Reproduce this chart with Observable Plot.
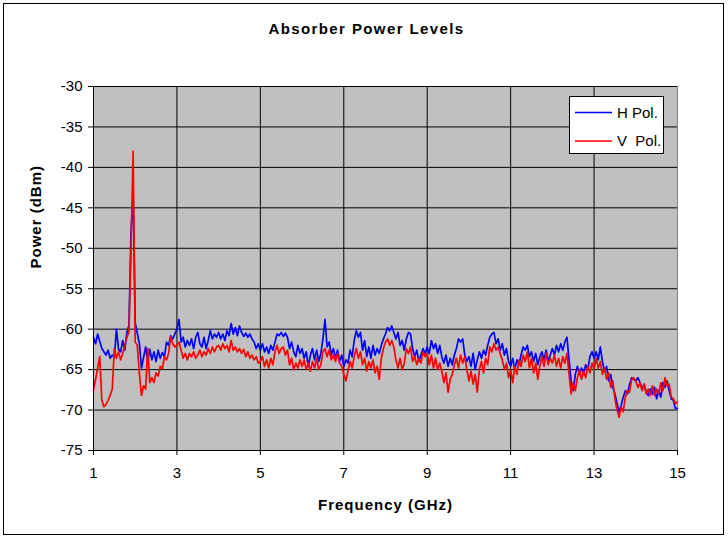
<!DOCTYPE html>
<html><head><meta charset="utf-8">
<script src="https://cdn.jsdelivr.net/npm/d3@7"></script>
<script src="https://cdn.jsdelivr.net/npm/@observablehq/plot@0.6"></script>
<style>
body{margin:0;background:#fff}
#chart{width:728px;height:537px;position:relative}
</style>
</head><body><div id="chart"></div>
<script>
// Sweep: 1.00 GHz to 15.00 GHz in 0.05 GHz steps
const freqStart = 1;
const freqStep = 0.05;

// H Pol. (dBm), one row per GHz
const hPol = [
 -61.0,-61.8,-60.6,-61.5,-62.4,-62.8,-63.2,-62.6,-63.6,-63.2,-63.5,-60.0,-62.5,-62.8,-61.4,-62.6,-60.4,-59.5,-48.0,-43.0,
 -59.2,-60.5,-61.8,-64.8,-63.5,-62.2,-64.0,-62.5,-63.8,-62.8,-64.0,-62.6,-63.6,-62.9,-63.4,-61.6,-62.0,-60.8,-61.2,-60.6,
 -60.0,-58.8,-61.6,-61.0,-62.2,-61.4,-62.0,-61.2,-62.4,-61.0,-60.4,-61.8,-62.2,-61.0,-62.4,-61.4,-60.2,-61.2,-60.6,-61.0,
 -60.4,-61.2,-60.6,-61.4,-60.2,-60.8,-59.3,-60.6,-59.8,-60.8,-59.6,-60.4,-60.9,-60.5,-61.0,-60.6,-61.2,-61.6,-62.4,-61.8,
 -62.6,-61.8,-62.8,-62.2,-63.0,-62.0,-62.6,-61.6,-60.6,-60.8,-60.4,-60.9,-60.5,-61.0,-62.4,-61.6,-62.8,-63.4,-62.0,-63.0,
 -62.4,-63.6,-62.8,-64.6,-63.2,-62.4,-63.8,-62.6,-64.0,-63.0,-61.2,-58.8,-62.2,-61.6,-63.2,-62.4,-63.6,-62.6,-64.0,-63.2,
 -64.6,-63.8,-64.2,-62.6,-63.4,-61.4,-60.2,-61.0,-60.4,-62.6,-61.4,-63.4,-62.2,-63.6,-62.0,-63.2,-62.4,-63.0,-62.0,-61.2,
 -60.6,-59.8,-60.2,-59.6,-60.4,-61.2,-60.4,-62.0,-61.4,-62.6,-61.2,-60.4,-60.6,-62.4,-63.4,-62.6,-64.0,-63.2,-62.4,-63.0,
 -62.2,-63.0,-61.4,-62.4,-61.8,-63.0,-62.0,-63.4,-64.2,-63.2,-64.6,-63.6,-64.4,-63.2,-62.4,-61.2,-61.6,-61.2,-63.2,-64.0,
 -63.4,-64.6,-63.0,-65.0,-63.8,-62.8,-63.6,-62.6,-63.2,-62.0,-61.0,-60.6,-60.4,-61.8,-61.2,-62.6,-61.8,-63.2,-62.4,-64.0,
 -64.6,-63.6,-65.0,-63.8,-64.4,-63.2,-62.2,-62.6,-62.0,-63.4,-62.8,-64.0,-63.0,-64.4,-63.4,-62.8,-63.8,-62.6,-64.0,-63.2,
 -62.4,-63.2,-62.0,-62.8,-61.8,-62.6,-61.6,-61.0,-63.8,-66.4,-67.6,-65.6,-64.6,-65.6,-64.8,-65.4,-64.4,-65.0,-63.4,-62.8,
 -63.6,-62.8,-63.8,-62.2,-64.0,-65.2,-64.6,-66.4,-65.6,-67.2,-68.0,-69.2,-70.2,-69.4,-68.4,-67.6,-68.0,-66.8,-66.0,-66.2,
 -66.4,-66.0,-66.6,-67.4,-66.8,-67.8,-68.2,-67.4,-68.0,-67.2,-68.6,-67.6,-68.4,-66.6,-67.2,-66.4,-67.6,-68.6,-68.8,-69.8,
 -69.8
];

// V Pol. (dBm), one row per GHz
const vPol = [
 -67.5,-66.2,-64.8,-63.4,-68.8,-69.6,-69.3,-68.8,-68.2,-67.4,-62.4,-63.6,-62.8,-63.8,-63.0,-62.0,-61.0,-60.4,-50.0,-38.0,
 -61.6,-62.0,-65.5,-68.2,-67.0,-67.4,-62.4,-66.6,-66.0,-66.6,-65.4,-65.8,-64.6,-64.9,-63.4,-63.8,-63.0,-60.9,-61.8,-62.2,
 -62.0,-61.6,-62.6,-63.6,-63.0,-63.8,-63.0,-63.4,-62.8,-63.6,-63.2,-62.6,-63.4,-62.8,-63.2,-62.4,-63.0,-62.2,-62.8,-62.2,
 -62.0,-62.6,-61.8,-62.4,-62.0,-62.8,-61.4,-62.6,-62.2,-62.8,-62.4,-63.0,-62.5,-63.4,-62.8,-63.6,-63.2,-63.8,-63.4,-64.2,
 -64.0,-63.4,-64.6,-63.8,-64.8,-63.6,-64.4,-62.8,-62.0,-63.0,-62.4,-62.2,-63.2,-62.6,-64.4,-63.6,-65.0,-64.2,-64.8,-63.8,
 -64.6,-63.8,-65.0,-64.2,-65.2,-64.0,-64.8,-63.6,-65.0,-64.4,-62.8,-62.4,-63.4,-62.6,-63.8,-63.2,-64.0,-63.0,-64.2,-64.6,
 -65.6,-66.4,-65.2,-64.0,-64.8,-63.4,-62.4,-63.6,-62.8,-64.4,-63.6,-65.2,-64.0,-64.8,-63.8,-65.4,-64.6,-66.2,-63.6,-62.4,
 -61.6,-61.2,-62.0,-61.4,-62.2,-63.8,-64.8,-63.6,-65.0,-64.2,-62.4,-63.0,-62.2,-64.0,-63.4,-64.4,-63.6,-64.2,-62.8,-63.4,
 -63.0,-64.4,-63.2,-64.8,-63.6,-65.0,-64.2,-65.2,-66.6,-65.4,-67.8,-66.2,-65.6,-64.4,-63.6,-64.8,-63.2,-64.2,-63.4,-65.0,
 -66.4,-65.2,-66.8,-65.6,-67.8,-65.0,-64.0,-65.4,-63.6,-64.4,-62.2,-62.8,-61.8,-62.6,-62.2,-63.0,-63.8,-65.0,-64.2,-66.0,
 -65.0,-66.6,-64.6,-65.6,-63.8,-64.6,-63.2,-64.0,-62.8,-64.8,-63.6,-65.4,-64.2,-66.2,-64.6,-63.4,-64.6,-63.0,-64.4,-63.6,
 -64.2,-63.2,-64.6,-63.6,-64.8,-63.4,-64.2,-63.0,-65.6,-68.0,-66.6,-67.6,-66.0,-65.0,-66.2,-65.2,-66.0,-64.6,-65.4,-64.2,
 -65.0,-63.6,-64.8,-64.0,-65.6,-64.8,-66.2,-65.4,-67.2,-66.4,-68.6,-70.0,-70.9,-69.6,-70.2,-68.4,-67.6,-67.8,-66.2,-66.0,
 -66.4,-67.2,-66.6,-67.6,-66.8,-68.0,-67.4,-68.2,-67.0,-68.2,-67.4,-68.0,-66.6,-67.6,-66.0,-67.0,-66.8,-68.4,-68.6,-69.2,
 -69.0
];

const seriesNames = ["H Pol.", "V  Pol."];
const seriesColors = ["#0000ff", "#ff0000"];
const xTicks = [1, 3, 5, 7, 9, 11, 13, 15];
const yTicks = [-75, -70, -65, -60, -55, -50, -45, -40, -35, -30];
const titleText = "Absorber Power Levels";
const xLabel = "Frequency (GHz)";
const yLabel = "Power (dBm)";

const freq = hPol.map((_, i) => +(freqStart + i * freqStep).toFixed(2));
const rows = [];
[hPol, vPol].forEach((vals, s) => vals.forEach((v, i) => rows.push({f: freq[i], v, s: seriesNames[s]})));

const font = "'Liberation Sans', Arial, sans-serif";

const plot = Plot.plot({
  width: 728, height: 537,
  marginLeft: 93, marginRight: 51, marginTop: 86, marginBottom: 87,
  style: {fontFamily: font, fontSize: "15px", background: "#fff", color: "#000", overflow: "visible"},
  x: {domain: [1, 15], label: null},
  y: {domain: [-75, -30], label: null},
  color: {domain: seriesNames, range: seriesColors},
  marks: [
    Plot.frame({fill: "#c0c0c0", stroke: "#808080"}),
    Plot.gridX(xTicks.slice(1, -1), {stroke: "#000", strokeOpacity: 1}),
    Plot.gridY(yTicks.slice(1), {stroke: "#000", strokeOpacity: 1}),
    Plot.line(rows, {x: "f", y: "v", z: "s", stroke: "s", strokeWidth: 1.7, curve: "linear"}),
    Plot.ruleX([1], {stroke: "#000"}),
    Plot.ruleY([-75], {stroke: "#000"}),
    Plot.axisY(yTicks, {tickSize: 5, tickPadding: 6, fontSize: 15, tickFormat: d => d}),
    Plot.axisX(xTicks, {tickSize: 5, tickPadding: 12, fontSize: 15, tickFormat: d => d}),
    Plot.text([titleText], {frameAnchor: "top", lineAnchor: "middle", dx: -19, dy: -57, fontWeight: "bold", fontSize: 15, fill: "#000"}),
    Plot.text([xLabel], {frameAnchor: "bottom", lineAnchor: "middle", dy: 55, fontWeight: "bold", fontSize: 15, fill: "#000"}),
    Plot.text([yLabel], {frameAnchor: "left", dx: -57, rotate: -90, fontWeight: "bold", fontSize: 15, fill: "#000"})
  ]
});

const svg = d3.select(plot);
// letter spacing for bold labels
svg.selectAll("text").filter(function(){ const t = this.textContent; return t === titleText || t === xLabel || t === yLabel; })
  .attr("letter-spacing", function(){ return this.textContent === titleText ? "1.4px" : "1px"; });

// outer chart border
svg.append("rect").attr("x", 3.5).attr("y", 3.5).attr("width", 720).attr("height", 531)
  .attr("fill", "none").attr("stroke", "#000").attr("stroke-width", 1);

// legend
const lg = svg.append("g").attr("font-family", font).attr("font-size", 15).attr("text-anchor", "start");
lg.append("rect").attr("x", 569.5).attr("y", 96.5).attr("width", 94).attr("height", 57)
  .attr("fill", "#fff").attr("stroke", "#000");
seriesNames.forEach((name, i) => {
  const y = 112.5 + i * 28.5;
  lg.append("line").attr("x1", 575).attr("x2", 612).attr("y1", y).attr("y2", y)
    .attr("stroke", seriesColors[i]).attr("stroke-width", 1.6);
  lg.append("text").attr("x", 617).attr("y", y).attr("dy", "0.35em").attr("fill", "#000")
    .attr("text-anchor", "start").style("white-space", "pre").text(name);
});

document.getElementById("chart").appendChild(plot);
</script>
</body></html>
